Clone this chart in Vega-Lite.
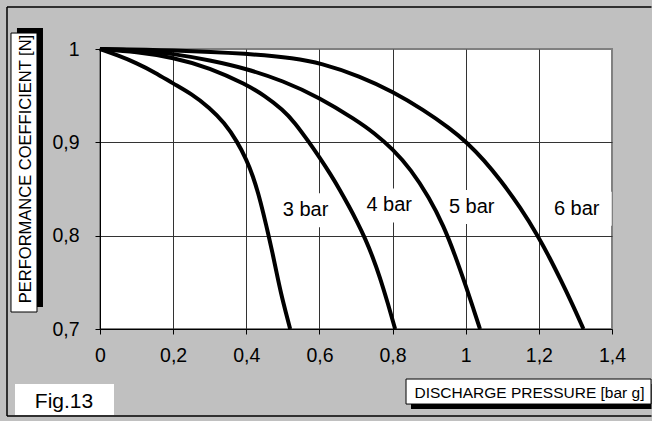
{
  "$schema": "https://vega.github.io/schema/vega-lite/v6.json",
  "width": 512,
  "height": 280,
  "autosize": {"type": "none"},
  "padding": {"left": 100, "top": 49, "right": 40, "bottom": 92},
  "background": "#c0c0c0",
  "config": {
    "view": {"fill": "white", "stroke": "#808080", "strokeWidth": 2},
    "font": "Liberation Sans"
  },
  "datasets": {
    "curves": [
      {"curve": "3 bar", "pressure": 0, "coef": 1},
      {"curve": "3 bar", "pressure": 0.05, "coef": 0.993},
      {"curve": "3 bar", "pressure": 0.1, "coef": 0.985},
      {"curve": "3 bar", "pressure": 0.15, "coef": 0.975},
      {"curve": "3 bar", "pressure": 0.2, "coef": 0.963},
      {"curve": "3 bar", "pressure": 0.25, "coef": 0.952},
      {"curve": "3 bar", "pressure": 0.3, "coef": 0.937},
      {"curve": "3 bar", "pressure": 0.34, "coef": 0.921},
      {"curve": "3 bar", "pressure": 0.375, "coef": 0.901},
      {"curve": "3 bar", "pressure": 0.401, "coef": 0.881},
      {"curve": "3 bar", "pressure": 0.418, "coef": 0.864},
      {"curve": "3 bar", "pressure": 0.433, "coef": 0.845},
      {"curve": "3 bar", "pressure": 0.446, "coef": 0.825},
      {"curve": "3 bar", "pressure": 0.46, "coef": 0.802},
      {"curve": "3 bar", "pressure": 0.472, "coef": 0.781},
      {"curve": "3 bar", "pressure": 0.483, "coef": 0.76},
      {"curve": "3 bar", "pressure": 0.495, "coef": 0.738},
      {"curve": "3 bar", "pressure": 0.508, "coef": 0.718},
      {"curve": "3 bar", "pressure": 0.52, "coef": 0.7},
      {"curve": "4 bar", "pressure": 0, "coef": 1},
      {"curve": "4 bar", "pressure": 0.1, "coef": 0.997},
      {"curve": "4 bar", "pressure": 0.2, "coef": 0.991},
      {"curve": "4 bar", "pressure": 0.3, "coef": 0.98},
      {"curve": "4 bar", "pressure": 0.4, "coef": 0.962},
      {"curve": "4 bar", "pressure": 0.45, "coef": 0.95},
      {"curve": "4 bar", "pressure": 0.5, "coef": 0.935},
      {"curve": "4 bar", "pressure": 0.533, "coef": 0.921},
      {"curve": "4 bar", "pressure": 0.57, "coef": 0.901},
      {"curve": "4 bar", "pressure": 0.6, "coef": 0.884},
      {"curve": "4 bar", "pressure": 0.63, "coef": 0.866},
      {"curve": "4 bar", "pressure": 0.656, "coef": 0.849},
      {"curve": "4 bar", "pressure": 0.68, "coef": 0.832},
      {"curve": "4 bar", "pressure": 0.703, "coef": 0.815},
      {"curve": "4 bar", "pressure": 0.725, "coef": 0.797},
      {"curve": "4 bar", "pressure": 0.745, "coef": 0.778},
      {"curve": "4 bar", "pressure": 0.765, "coef": 0.756},
      {"curve": "4 bar", "pressure": 0.786, "coef": 0.729},
      {"curve": "4 bar", "pressure": 0.807, "coef": 0.7},
      {"curve": "5 bar", "pressure": 0, "coef": 1},
      {"curve": "5 bar", "pressure": 0.1, "coef": 0.999},
      {"curve": "5 bar", "pressure": 0.2, "coef": 0.995},
      {"curve": "5 bar", "pressure": 0.3, "coef": 0.988},
      {"curve": "5 bar", "pressure": 0.4, "coef": 0.979},
      {"curve": "5 bar", "pressure": 0.5, "coef": 0.966},
      {"curve": "5 bar", "pressure": 0.6, "coef": 0.948},
      {"curve": "5 bar", "pressure": 0.7, "coef": 0.924},
      {"curve": "5 bar", "pressure": 0.75, "coef": 0.91},
      {"curve": "5 bar", "pressure": 0.8, "coef": 0.893},
      {"curve": "5 bar", "pressure": 0.85, "coef": 0.871},
      {"curve": "5 bar", "pressure": 0.9, "coef": 0.841},
      {"curve": "5 bar", "pressure": 0.94, "coef": 0.81},
      {"curve": "5 bar", "pressure": 0.97, "coef": 0.78},
      {"curve": "5 bar", "pressure": 1.003, "coef": 0.743},
      {"curve": "5 bar", "pressure": 1.02, "coef": 0.723},
      {"curve": "5 bar", "pressure": 1.039, "coef": 0.7},
      {"curve": "6 bar", "pressure": 0, "coef": 1},
      {"curve": "6 bar", "pressure": 0.2, "coef": 0.999},
      {"curve": "6 bar", "pressure": 0.41, "coef": 0.995},
      {"curve": "6 bar", "pressure": 0.533, "coef": 0.99},
      {"curve": "6 bar", "pressure": 0.602, "coef": 0.985},
      {"curve": "6 bar", "pressure": 0.711, "coef": 0.971},
      {"curve": "6 bar", "pressure": 0.802, "coef": 0.954},
      {"curve": "6 bar", "pressure": 0.884, "coef": 0.935},
      {"curve": "6 bar", "pressure": 0.957, "coef": 0.915},
      {"curve": "6 bar", "pressure": 1.003, "coef": 0.9},
      {"curve": "6 bar", "pressure": 1.05, "coef": 0.881},
      {"curve": "6 bar", "pressure": 1.094, "coef": 0.86},
      {"curve": "6 bar", "pressure": 1.15, "coef": 0.83},
      {"curve": "6 bar", "pressure": 1.197, "coef": 0.8},
      {"curve": "6 bar", "pressure": 1.23, "coef": 0.776},
      {"curve": "6 bar", "pressure": 1.258, "coef": 0.754},
      {"curve": "6 bar", "pressure": 1.29, "coef": 0.728},
      {"curve": "6 bar", "pressure": 1.322, "coef": 0.7}
    ],
    "labels": [
      {"label": "3 bar", "pressure": 0.562, "coef": 0.8273},
      {"label": "4 bar", "pressure": 0.7908, "coef": 0.8324},
      {"label": "5 bar", "pressure": 1.0164, "coef": 0.8307},
      {"label": "6 bar", "pressure": 1.3035, "coef": 0.8289}
    ],
    "frame": [
      {"side": "top", "x1": -0.2543, "x2": 1.508, "y1": 1.045, "y2": 1.045},
      {"side": "bottom", "x1": -0.2543, "x2": 1.508, "y1": 0.6068, "y2": 0.6068},
      {"side": "left", "x1": -0.2543, "x2": -0.2543, "y1": 1.045, "y2": 0.6068}
    ],
    "boxes": [
      {"kind": "shadow", "x1": -0.227, "x2": -0.1559, "y1": 1.0225, "y2": 0.7235},
      {"kind": "box", "x1": -0.2434, "x2": -0.1723, "y1": 1.0171, "y2": 0.7182},
      {"kind": "shadow", "x1": 0.8504, "x2": 1.508, "y1": 0.6411, "y2": 0.6143},
      {"kind": "box", "x1": 0.8368, "x2": 1.5067, "y1": 0.6464, "y2": 0.6196},
      {"kind": "plain", "x1": -0.2324, "x2": 0.0383, "y1": 0.6411, "y2": 0.6078}
    ],
    "caption": [
      {"text": "Fig.13", "pressure": -0.0984, "coef": 0.6221}
    ]
  },
  "resolve": {"axis": {"x": "independent", "y": "independent"}},
  "layer": [
    {
      "data": {"name": "frame"},
      "mark": {"type": "rule", "color": "black", "strokeWidth": 1.5},
      "encoding": {
        "x": {"field": "x1", "type": "quantitative", "scale": {"domain": [0, 1.4], "nice": false, "zero": false}, "axis": null},
        "x2": {"field": "x2"},
        "y": {"field": "y1", "type": "quantitative", "scale": {"domain": [0.7, 1], "nice": false, "zero": false}, "axis": null},
        "y2": {"field": "y2"}
      }
    },
    {
      "data": {"name": "boxes"},
      "transform": [{"filter": "datum.kind === 'shadow'"}],
      "mark": {"type": "rect", "fill": "black", "strokeWidth": 0},
      "encoding": {
        "x": {"field": "x1", "type": "quantitative", "scale": {"domain": [0, 1.4], "nice": false, "zero": false}, "axis": null},
        "x2": {"field": "x2"},
        "y": {"field": "y1", "type": "quantitative", "scale": {"domain": [0.7, 1], "nice": false, "zero": false}, "axis": null},
        "y2": {"field": "y2"}
      }
    },
    {
      "data": {"name": "boxes"},
      "transform": [{"filter": "datum.kind === 'box'"}],
      "mark": {"type": "rect", "fill": "white", "stroke": "black", "strokeWidth": 1},
      "encoding": {
        "x": {"field": "x1", "type": "quantitative", "scale": {"domain": [0, 1.4], "nice": false, "zero": false}, "axis": null},
        "x2": {"field": "x2"},
        "y": {"field": "y1", "type": "quantitative", "scale": {"domain": [0.7, 1], "nice": false, "zero": false}, "axis": null},
        "y2": {"field": "y2"}
      }
    },
    {
      "data": {"name": "boxes"},
      "transform": [{"filter": "datum.kind === 'plain'"}],
      "mark": {"type": "rect", "fill": "white", "strokeWidth": 0},
      "encoding": {
        "x": {"field": "x1", "type": "quantitative", "scale": {"domain": [0, 1.4], "nice": false, "zero": false}, "axis": null},
        "x2": {"field": "x2"},
        "y": {"field": "y1", "type": "quantitative", "scale": {"domain": [0.7, 1], "nice": false, "zero": false}, "axis": null},
        "y2": {"field": "y2"}
      }
    },
    {
      "data": {"name": "labels"},
      "mark": {"type": "point", "shape": "M-1,-0.4857H1V0.4857H-1Z", "size": 4900, "filled": true, "fill": "white", "opacity": 1, "strokeWidth": 0},
      "encoding": {
        "x": {"field": "pressure", "type": "quantitative", "scale": {"domain": [0, 1.4], "nice": false, "zero": false}, "axis": null},
        "y": {"field": "coef", "type": "quantitative", "scale": {"domain": [0.7, 1], "nice": false, "zero": false}, "axis": null}
      }
    },
    {
      "data": {"name": "curves"},
      "mark": {"type": "line", "color": "black", "strokeWidth": 4, "interpolate": "basis", "strokeCap": "butt"},
      "encoding": {
        "x": {
          "field": "pressure", "type": "quantitative",
          "scale": {"domain": [0, 1.4], "nice": false, "zero": false},
          "axis": {"orient": "bottom", "values": [0.2, 0.4, 0.6, 0.8, 1, 1.2], "grid": true, "gridColor": "#333333", "gridWidth": 1, "gridOpacity": 1, "domain": false, "ticks": false, "labels": false, "title": null, "zindex": 0}
        },
        "y": {
          "field": "coef", "type": "quantitative",
          "scale": {"domain": [0.7, 1], "nice": false, "zero": false},
          "axis": {"orient": "left", "values": [0.8, 0.9], "grid": true, "gridColor": "#333333", "gridWidth": 1, "gridOpacity": 1, "domain": false, "ticks": false, "labels": false, "title": null, "zindex": 0}
        },
        "detail": {"field": "curve"}
      }
    },
    {
      "data": {"name": "labels"},
      "mark": {"type": "text", "font": "Liberation Sans", "fontSize": 20, "color": "black", "align": "center", "baseline": "middle"},
      "encoding": {
        "x": {"field": "pressure", "type": "quantitative", "scale": {"domain": [0, 1.4], "nice": false, "zero": false}, "axis": null},
        "y": {"field": "coef", "type": "quantitative", "scale": {"domain": [0.7, 1], "nice": false, "zero": false}, "axis": null},
        "text": {"field": "label"}
      }
    },
    {
      "data": {"name": "caption"},
      "mark": {"type": "text", "font": "Liberation Sans", "fontSize": 21, "color": "black", "align": "center", "baseline": "middle"},
      "encoding": {
        "x": {
          "field": "pressure", "type": "quantitative",
          "scale": {"domain": [0, 1.4], "nice": false, "zero": false},
          "axis": {
            "orient": "bottom", "values": [0, 0.2, 0.4, 0.6, 0.8, 1, 1.2, 1.4], "grid": false, "zindex": 1,
            "domainColor": "black", "domainWidth": 1, "tickColor": "black", "tickSize": 5, "tickWidth": 1,
            "labelFont": "Liberation Sans", "labelFontSize": 19.5, "labelColor": "black", "labelPadding": 12,
            "labelFlush": false, "labelOverlap": false,
            "labelExpr": "replace(format(datum.value, '.1~f'), '.', ',')",
            "title": "DISCHARGE PRESSURE [bar g]", "titleFont": "Liberation Sans", "titleFontSize": 15.5,
            "titleFontWeight": "normal", "titleColor": "black", "titleX": 429, "titleY": 63.2,
            "titleAlign": "center", "titleBaseline": "middle", "titleAngle": 0
          }
        },
        "y": {
          "field": "coef", "type": "quantitative",
          "scale": {"domain": [0.7, 1], "nice": false, "zero": false},
          "axis": {
            "orient": "left", "values": [0.7, 0.8, 0.9, 1], "grid": false, "zindex": 1,
            "domainColor": "black", "domainWidth": 1, "tickColor": "black", "tickSize": 5, "tickWidth": 1,
            "labelFont": "Liberation Sans", "labelFontSize": 19.5, "labelColor": "black", "labelPadding": 16,
            "labelFlush": false, "labelOverlap": false,
            "labelExpr": "replace(format(datum.value, '.1~f'), '.', ',')",
            "title": "PERFORMANCE COEFFICIENT [N]", "titleFont": "Liberation Sans", "titleFontSize": 16.5,
            "titleFontWeight": "normal", "titleColor": "black", "titleX": -75, "titleY": 119.5,
            "titleAlign": "center", "titleBaseline": "middle", "titleAngle": 270
          }
        },
        "text": {"field": "text"}
      }
    }
  ]
}
